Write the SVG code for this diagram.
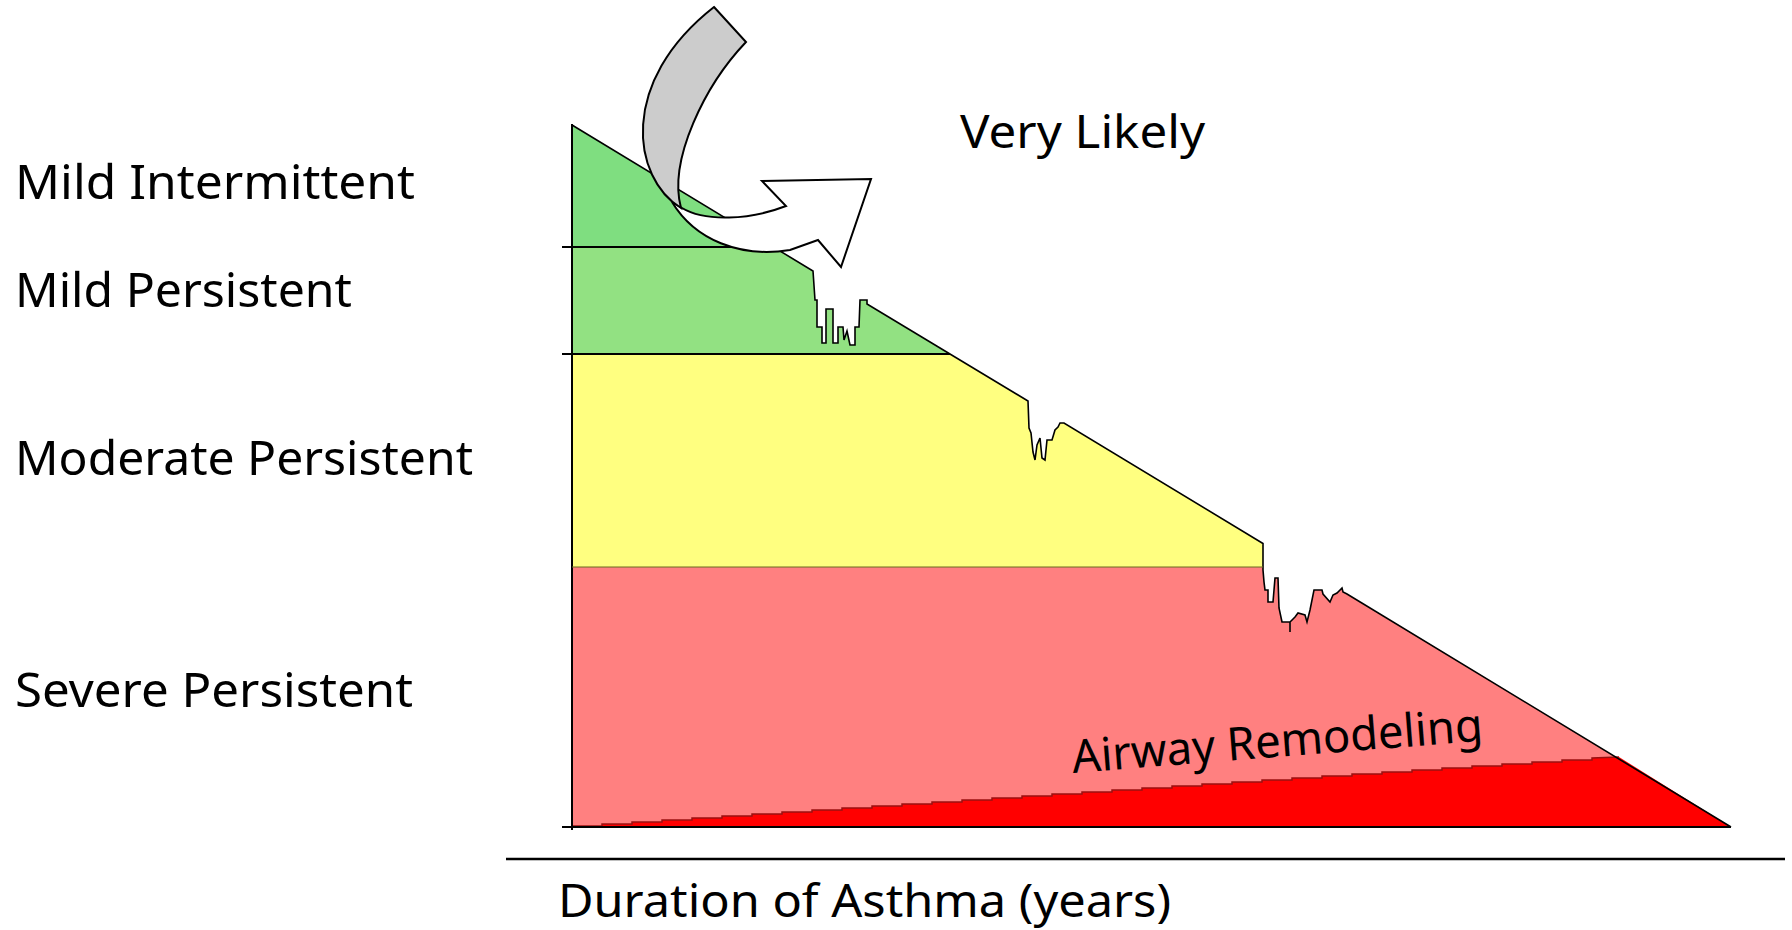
<svg xmlns="http://www.w3.org/2000/svg" width="1792" height="930" viewBox="0 0 1792 930">
<style>
.lbl{font-family:"Noto Sans","DejaVu Sans",sans-serif;font-size:48px;fill:#000}
.ln{stroke:#000;stroke-width:2;fill:none}
</style>
<defs>
<clipPath id="tri">
<path d="M572,125 L813,271 L815,300 L817,300 L817,327 L822,327 L822,343 L826,343 L826,309 L833,309 L833,343 L838,343 L838,327 L843,327 L844,340 L847,331 L850,345 L855,345 L855,327 L859,327 L860,300 L867,300 L867,304 L1028,401 L1029,428 L1031,433 L1033,452 L1035,460 L1037,445 L1040,438 L1042,458 L1045,460 L1047,440 L1052,440 L1055,430 L1058,427 L1060,423 L1064,423 L1263,543.5 L1263,570 L1264,582 L1265,590 L1268,590 L1268,602 L1273,602 L1275,578 L1278,578 L1279,608 L1282,622 L1290,622 L1295,617 L1298,613 L1305,615 L1307,622 L1310,610 L1314,590 L1322,590 L1323,594 L1330,602 L1333,595 L1337,593 L1342,588 L1343,592 L1347,594 L1731,827 L572,827 Z"/>
</clipPath>
</defs>
<rect width="1792" height="930" fill="#fff"/>
<g id="bands" clip-path="url(#tri)">
<rect x="560" y="110" width="1200" height="137" fill="#7FDE80"/>
<rect x="560" y="247" width="1200" height="107" fill="#92E182"/>
<rect x="560" y="354" width="1200" height="213" fill="#FFFF80"/>
<rect x="560" y="567" width="1200" height="270" fill="#FF8080"/>
</g>
<g id="remodeling">
<path d="M572,827 v-1 h30 v-2 h30 v-2 h30 v-2 h30 v-2 h30 v-2 h30 v-2 h30 v-2 h30 v-2 h30 v-2 h30 v-2 h30 v-2 h30 v-2 h30 v-2 h30 v-2 h30 v-2 h30 v-2 h30 v-2 h30 v-2 h30 v-2 h30 v-2 h30 v-2 h30 v-2 h30 v-2 h30 v-2 h30 v-2 h30 v-2 h30 v-2 h30 v-2 h30 v-2 h30 v-2 h30 v-2 h30 v-2 h30 v-2 h30 v-2 L1619,757 L1731,827 Z" fill="#FF0000"/>
<path d="M572,826 h30 v-2 h30 v-2 h30 v-2 h30 v-2 h30 v-2 h30 v-2 h30 v-2 h30 v-2 h30 v-2 h30 v-2 h30 v-2 h30 v-2 h30 v-2 h30 v-2 h30 v-2 h30 v-2 h30 v-2 h30 v-2 h30 v-2 h30 v-2 h30 v-2 h30 v-2 h30 v-2 h30 v-2 h30 v-2 h30 v-2 h30 v-2 h30 v-2 h30 v-2 h30 v-2 h30 v-2 h30 v-2 h30 v-2 h30 v-2 L1619,757" fill="none" stroke="#9A1010" stroke-width="1.5"/>
</g>
<g id="outline">
<path d="M572,125 L813,271 L815,300 L817,300 L817,327 L822,327 L822,343 L826,343 L826,309 L833,309 L833,343 L838,343 L838,327 L843,327 L844,340 L847,331 L850,345 L855,345 L855,327 L859,327 L860,300 L867,300 L867,304 L1028,401 L1029,428 L1031,433 L1033,452 L1035,460 L1037,445 L1040,438 L1042,458 L1045,460 L1047,440 L1052,440 L1055,430 L1058,427 L1060,423 L1064,423 L1263,543.5 L1263,570 L1264,582 L1265,590 L1268,590 L1268,602 L1273,602 L1275,578 L1278,578 L1279,608 L1282,622 L1290,622 L1290,632 L1290,622 L1295,617 L1298,613 L1305,615 L1307,622 L1310,610 L1314,590 L1322,590 L1323,594 L1330,602 L1333,595 L1337,593 L1342,588 L1343,592 L1347,594 L1731,827" fill="none" stroke="#000" stroke-width="1.6" stroke-linejoin="miter"/>
<line class="ln" x1="572" y1="124" x2="572" y2="830"/>
<line class="ln" x1="562" y1="827" x2="1731" y2="827"/>
<line class="ln" x1="562" y1="247" x2="773" y2="247"/>
<line class="ln" x1="562" y1="354" x2="950" y2="354"/>
<line x1="572" y1="567" x2="1263" y2="567" stroke="#6a6a20" stroke-width="1"/>
<line x1="506" y1="859" x2="1785" y2="859" stroke="#000" stroke-width="2.5"/>
</g>
<g id="arrow" stroke="#000" stroke-width="2" stroke-linejoin="miter">
<path d="M672,202 C695,240 740,258 790,250 L818,240 L841,267 L871,179 L762,181 L786,206 C750,220 705,222 682,208 Z" fill="#fff"/>
<path d="M714,7 L746,42 C705,85 668,160 681,208 C632,178 618,82 714,7 Z" fill="#CCCCCC"/>
</g>
<g id="labels">
<text class="lbl" x="15" y="199" textLength="400" lengthAdjust="spacingAndGlyphs">Mild Intermittent</text>
<text class="lbl" x="15" y="307" textLength="337" lengthAdjust="spacingAndGlyphs">Mild Persistent</text>
<text class="lbl" x="15" y="475" textLength="458" lengthAdjust="spacingAndGlyphs">Moderate Persistent</text>
<text class="lbl" x="15" y="707" textLength="398" lengthAdjust="spacingAndGlyphs">Severe Persistent</text>
<text class="lbl" x="960" y="148" style="font-size:46px" textLength="245" lengthAdjust="spacingAndGlyphs">Very Likely</text>
<text class="lbl" x="1073" y="773" style="font-size:46px" transform="rotate(-4.5 1073 773)" textLength="412" lengthAdjust="spacingAndGlyphs">Airway Remodeling</text>
<text class="lbl" x="558" y="917" style="font-size:46px" textLength="613" lengthAdjust="spacingAndGlyphs">Duration of Asthma (years)</text>
</g>
</svg>
